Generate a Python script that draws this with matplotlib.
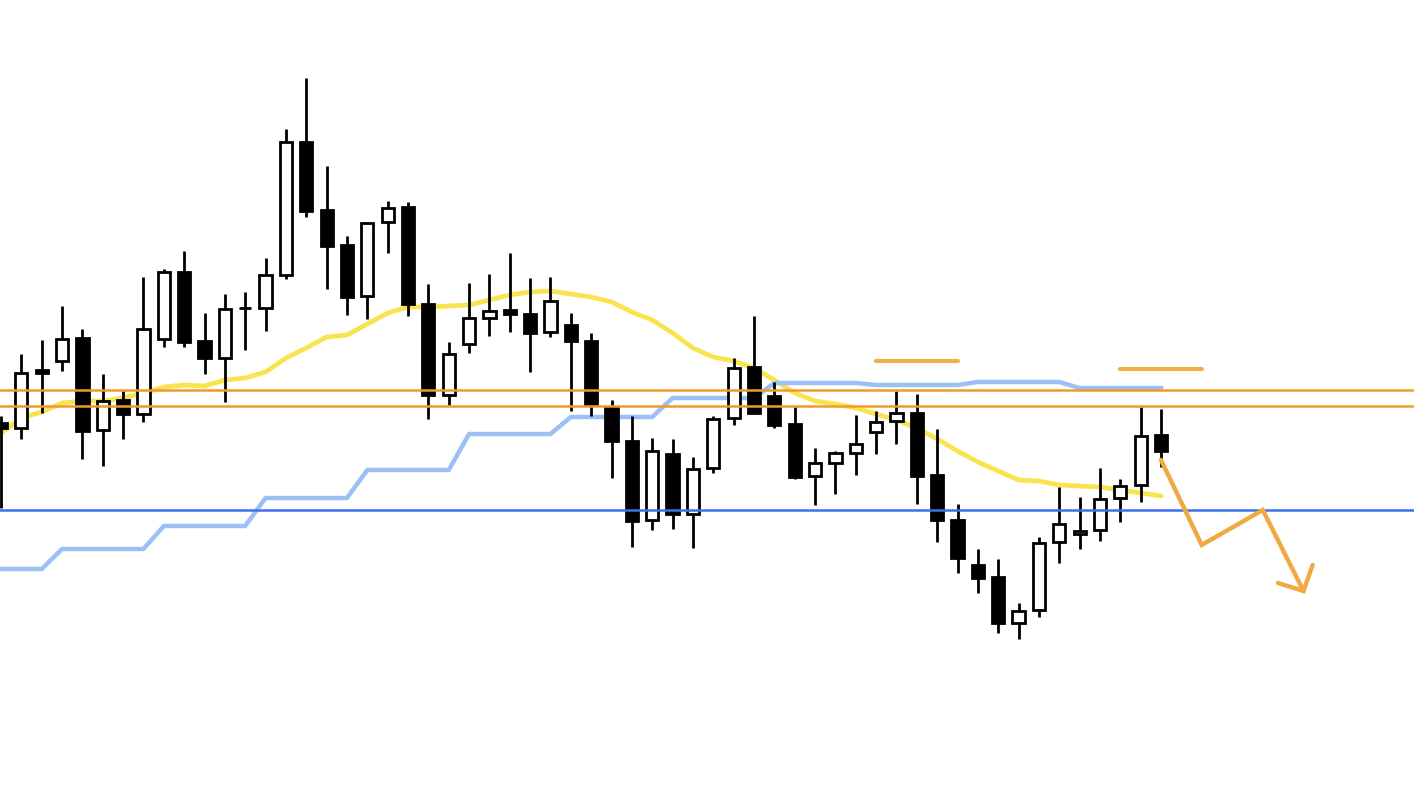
import numpy as np
import matplotlib
matplotlib.use("Agg")
import matplotlib.pyplot as plt

## candle data (screen scale: smaller value = higher price)
opens = [423, 428, 370, 361, 338, 430, 400, 414, 339, 272, 341, 358, 308, 308, 275, 142,
         210, 245, 296, 222, 207, 304, 395, 344, 318, 310, 314, 332, 325, 341, 407, 441,
         520, 454, 514, 468, 418, 367, 396, 424, 476, 463, 453, 432, 421, 413, 475, 520,
         565, 577, 623, 610, 542, 534, 530, 498, 485, 435]
highs = [416, 354, 340, 306, 329, 374, 391, 277, 269, 251, 313, 294, 292, 258, 129, 78,
         166, 236, 223, 201, 202, 284, 342, 283, 274, 253, 278, 277, 313, 333, 400, 416,
         438, 439, 457, 416, 358, 316, 382, 407, 448, 451, 415, 411, 391, 394, 429, 504,
         549, 559, 603, 537, 487, 497, 468, 479, 407, 409]
lows = [508, 439, 413, 371, 459, 466, 439, 422, 347, 347, 374, 402, 350, 331, 279, 217,
        289, 315, 319, 253, 316, 419, 405, 353, 336, 332, 372, 337, 411, 416, 478, 547,
        530, 529, 548, 473, 425, 413, 428, 479, 505, 494, 475, 454, 444, 504, 542, 573,
        593, 633, 639, 617, 563, 549, 541, 522, 502, 467]
closes = [428, 373, 373, 339, 431, 401, 414, 329, 272, 342, 358, 309, 308, 275, 142, 211,
          246, 297, 223, 208, 304, 395, 354, 318, 311, 314, 333, 301, 341, 405, 441, 521,
          451, 514, 469, 419, 368, 413, 425, 477, 463, 453, 444, 422, 413, 476, 520, 558,
          578, 623, 611, 543, 524, 531, 499, 486, 436, 451]

# moving average (yellow) and the stepped line (light blue)
ma = [433, 418, 412, 403, 401, 401, 398, 393, 387, 385, 386, 380, 378, 372, 358, 348,
      337, 335, 324, 313, 307, 307, 306, 305, 300, 295, 292, 291, 294, 297, 302, 312,
      320, 333, 348, 357, 361, 368, 380, 393, 401, 404, 408, 414, 420, 428, 439, 451,
      462, 471, 480, 481, 485, 486, 487, 490, 493, 496]
step_line = [569] * 3 + [549] * 5 + [526] * 5 + [498] * 5 + [470] * 5 + [434] * 5 + \
            [417] * 5 + [398] * 5 + [383] * 5 + [385] * 5 + [382] * 5 + [388] * 5

# horizontal levels
resist_lines = [390, 406]
support_line = 510
# short marks: (x start, x end, level)
short_marks = [(43.0, 47.0, 361), (55.0, 59.0, 369)]
# projected path and arrowhead
path_x = [57.0, 59.0, 62.0, 64.0]
path_y = [460, 545, 510, 591]
head_x = [62.75, 64.0, 64.45]
head_y = [583, 591, 565]

n = len(opens)
x = np.arange(n)

fig = plt.figure(figsize=(14.14, 7.94), dpi=100)
ax = fig.add_axes([0, 0, 1, 1])

ax.plot(x, ma, color="#f9e44f", lw=3.4, zorder=1, solid_capstyle="round")
ax.plot(x, step_line, color="#9cc0f5", lw=3.2, zorder=1)

o = np.array(opens)
c = np.array(closes)
up = c <= o   # close above open on screen scale
bottom = np.minimum(o, c)
height = np.abs(o - c)

ax.vlines(x, highs, lows, color="black", lw=2.0, zorder=2)
ax.bar(x, height, bottom=bottom, width=0.6,
       color=np.where(up, "white", "black"), edgecolor="black", linewidth=2.0, zorder=3)

for lv in resist_lines:
    ax.axhline(lv, color="#f09a2a", lw=1.8, zorder=4)
ax.axhline(support_line, color="#3f6ff0", lw=1.8, zorder=4)

for x0, x1, lv in short_marks:
    ax.plot([x0, x1], [lv, lv], color="#f3b04a", lw=3.0, solid_capstyle="round", zorder=4)

ax.plot(path_x, path_y, color="#f0aa45", lw=3.2, zorder=4,
        solid_capstyle="round", solid_joinstyle="miter")
ax.plot(head_x, head_y, color="#f0aa45", lw=3.2, zorder=4,
        solid_capstyle="round", solid_joinstyle="miter")

ax.set_xlim(-0.049, 69.43)
ax.set_ylim(794, 0)
ax.axis("off")

fig.savefig("out.png", dpi=100)
